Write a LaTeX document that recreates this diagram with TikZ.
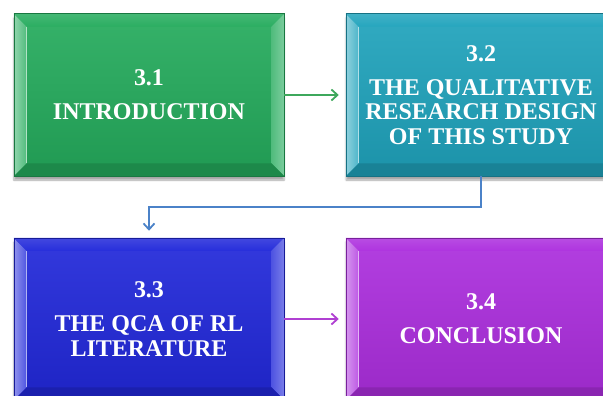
\documentclass[tikz,border=0pt]{standalone}
\usepackage{fontspec}
\setmainfont{Liberation Serif}
\usetikzlibrary{calc,shadows.blur,arrows.meta}

\definecolor{cgreen}{HTML}{24AB5C}
\definecolor{cteal}{HTML}{1FA3BC}
\definecolor{cblue}{HTML}{2128DA}
\definecolor{cpurple}{HTML}{AC2EDE}
\definecolor{lgreen}{HTML}{3EA85C}
\definecolor{lblue}{HTML}{4B82C8}
\definecolor{lpurple}{HTML}{B040D2}

\tikzset{
  panel/.style={rectangle, minimum width=270pt, minimum height=162pt,
    inner sep=0pt, align=center, text=white,
    font=\fontsize{24}{24.5}\selectfont\bfseries,
    top color=#1!92!white, bottom color=#1!90!black,
    draw=#1!70!black, line width=0.5pt,
    blur shadow={shadow xshift=0pt, shadow yshift=-4pt,
      shadow blur steps=6, shadow opacity=35}},
  label/.style={rectangle, minimum width=270pt, minimum height=162pt,
    inner sep=0pt, align=center, text=white,
    font=\fontsize{24}{24.5}\selectfont\bfseries},
  link/.style={draw=#1, line width=1.8pt,
    -{Straight Barb[length=6pt,width=11pt,line width=1.8pt]}}
}

% bevel facets of a panel: name, base colour
\newcommand\bevelfaces[2]{%
  \shade[left color=#2!50!white, right color=#2!80!white]
    (#1.north west) -- ($(#1.north west)+(13pt,-13pt)$)
    -- ($(#1.south west)+(13pt,13pt)$) -- (#1.south west) -- cycle;
  \draw[#2!35!white, line width=1pt]
    ($(#1.north west)+(12.5pt,-13pt)$) -- ($(#1.south west)+(12.5pt,13pt)$);
  \shade[top color=#2!85!white, bottom color=#2!97!white]
    (#1.north west) -- (#1.north east)
    -- ($(#1.north east)+(-13pt,-13pt)$) -- ($(#1.north west)+(13pt,-13pt)$) -- cycle;
  \shade[left color=#2!80!white, right color=#2!60!white]
    (#1.north east) -- ($(#1.north east)+(-13pt,-13pt)$)
    -- ($(#1.south east)+(-13pt,13pt)$) -- (#1.south east) -- cycle;
  \fill[#2!80!black]
    (#1.south west) -- ($(#1.south west)+(13pt,13pt)$)
    -- ($(#1.south east)+(-13pt,13pt)$) -- (#1.south east) -- cycle;
  \draw[#2!70!black, line width=0.5pt] (#1.north west) rectangle (#1.south east);
}

\begin{document}
\begin{tikzpicture}
\useasboundingbox (0,0) rectangle (603pt,-396pt);
\clip (0,0) rectangle (603pt,-396pt);

\node[panel=cgreen]  (intro) at (149pt,-95pt) {};
\node[panel=cteal]   (design) at (481pt,-95pt) {};
\node[panel=cblue]   (qca) at (149pt,-319pt) {};
\node[panel=cpurple] (concl) at (481pt,-319pt) {};

\bevelfaces{intro}{cgreen}
\bevelfaces{design}{cteal}
\bevelfaces{qca}{cblue}
\bevelfaces{concl}{cpurple}

\node[label] (introtext) at (intro) {3.1\\[9.5pt]INTRODUCTION};
\node[label] (designtext) at (design) {3.2\\[9.5pt]THE QUALITATIVE\\RESEARCH DESIGN\\OF THIS STUDY};
\node[label] (qcatext) at (qca) {3.3\\[9.5pt]THE QCA OF RL\\LITERATURE};
\node[label] (concltext) at (concl) {3.4\\[9.5pt]CONCLUSION};

\draw[link=lgreen] (intro.east) -- ([xshift=-7pt]design.west);
\draw[link=lblue] (design.south) -- ++(0,-31pt) -| ([yshift=7pt]qca.north);
\draw[link=lpurple] (qca.east) -- ([xshift=-7pt]concl.west);
\end{tikzpicture}
\end{document}
